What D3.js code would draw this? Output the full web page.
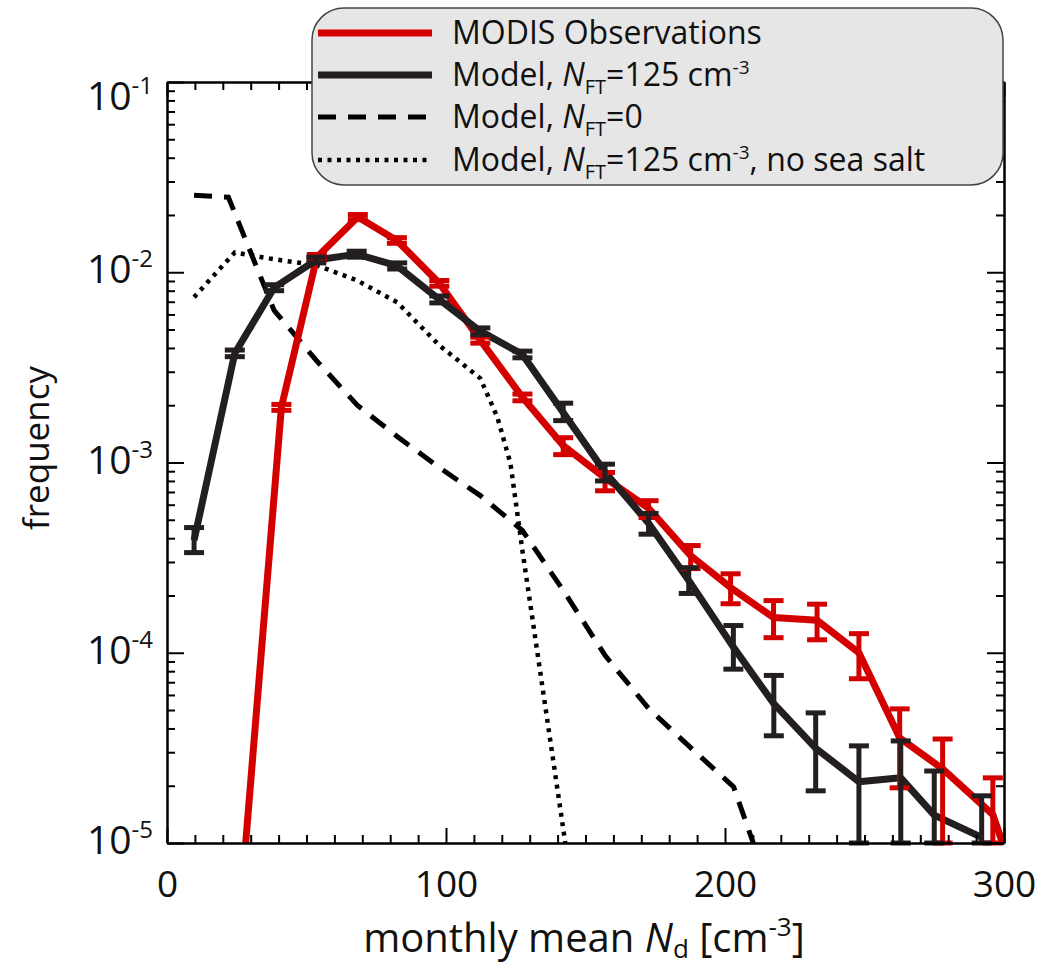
<!DOCTYPE html>
<html>
<head>
<meta charset="utf-8">
<script src="https://cdn.jsdelivr.net/npm/d3@7"></script>
<style>
body { margin: 0; background: #fff; }
text { font-family: "Open Sans", sans-serif; fill: #111; }
</style>
</head>
<body>
<div id="chart"></div>
<script>
// values (bin centre in cm-3, frequency)
var obsX  = [9.7, 24.3, 41, 53.7, 68.4, 82.4, 97.6, 112.3, 127.4, 142, 157, 172.6, 187.7, 202, 217.4, 233, 248, 262.6, 278, 296, 310]
var obsY  = [1e-7, 2e-6, 1.95e-3, 1.2e-2, 1.95e-2, 1.47e-2, 8.75e-3, 4.4e-3, 2.2e-3, 1.23e-3, 8.3e-4, 5.75e-4, 3.24e-4, 2.2e-4, 1.53e-4, 1.48e-4, 1.0e-4, 3.57e-5, 2.45e-5, 1.41e-5, 3.5e-6]
var obsHi = [1.1e-7, 2.2e-6, 2.02e-3, 1.24e-2, 2.01e-2, 1.52e-2, 9.05e-3, 4.56e-3, 2.29e-3, 1.35e-3, 8.86e-4, 6.3e-4, 3.66e-4, 2.6e-4, 1.88e-4, 1.8e-4, 1.26e-4, 5.07e-5, 3.52e-5, 2.2e-5, 4e-6]
var obsLo = [0.9e-7, 1.8e-6, 1.88e-3, 1.16e-2, 1.89e-2, 1.42e-2, 8.45e-3, 4.24e-3, 2.11e-3, 1.1e-3, 7.1e-4, 5.14e-4, 2.77e-4, 1.81e-4, 1.2e-4, 1.17e-4, 7.3e-5, 1.95e-5, 1e-5, 1e-5, 3e-6]

var modX  = [9.7, 24.3, 38.4, 53.5, 68, 82.5, 97.6, 112.3, 127.4, 142, 157, 172.6, 187, 203, 217.5, 232.5, 248, 263, 275, 292]
var modY  = [3.9e-4, 3.75e-3, 8.3e-3, 1.16e-2, 1.245e-2, 1.08e-2, 7.2e-3, 4.9e-3, 3.7e-3, 1.83e-3, 8.9e-4, 4.8e-4, 2.4e-4, 1.07e-4, 5.4e-5, 3.15e-5, 2.1e-5, 2.2e-5, 1.4e-5, 1.07e-5]
var modHi = [4.55e-4, 3.9e-3, 8.6e-3, 1.2e-2, 1.29e-2, 1.12e-2, 7.5e-3, 5.1e-3, 3.85e-3, 2.05e-3, 9.8e-4, 5.4e-4, 2.8e-4, 1.39e-4, 7.6e-5, 4.83e-5, 3.24e-5, 3.44e-5, 2.39e-5, 1.77e-5]
var modLo = [3.36e-4, 3.6e-3, 8.0e-3, 1.12e-2, 1.2e-2, 1.04e-2, 6.9e-3, 4.7e-3, 3.55e-3, 1.66e-3, 8.0e-4, 4.2e-4, 2.05e-4, 8.2e-5, 3.66e-5, 1.88e-5, 1e-5, 1e-5, 1e-5, 1e-5]

var zeroX = [9.7, 22, 38.4, 53.5, 68.2, 82.5, 97.6, 112.3, 127.4, 142.1, 157.2, 172.6, 187, 203.1, 217.1]
var zeroY = [2.54e-2, 2.48e-2, 6.3e-3, 3.44e-3, 2.0e-3, 1.37e-3, 9.4e-4, 6.7e-4, 4.39e-4, 2.12e-4, 9.6e-5, 5.1e-5, 3.24e-5, 1.97e-5, 5.1e-6]

var noSaltX = [9.7, 24.3, 38.4, 53.5, 68, 82.5, 97.6, 112.3, 118.4, 123.1, 127.4, 157.2]
var noSaltY = [7.4e-3, 1.27e-2, 1.17e-2, 1.09e-2, 9.08e-3, 6.95e-3, 4.13e-3, 2.77e-3, 1.73e-3, 9.9e-4, 3.44e-4, 3.6e-7]

var xMajor = [0, 100, 200, 300]
var decades = [-1, -2, -3, -4, -5]

var width = 1049, height = 968
var margin = {top: 82, right: 45, bottom: 125, left: 167}
var red = "#d40000", blk = "#231f20"

var x = d3.scaleLinear().domain([0, 300]).range([margin.left, width - margin.right])
var y = d3.scaleLog().domain([1e-5, 1e-1]).range([height - margin.bottom, margin.top])

var svg = d3.select("#chart").append("svg")
    .attr("width", width)
    .attr("height", height)

var zip = function(xs, ys) { return xs.map(function(d, i) { return [d, ys[i]] }) }
var line = d3.line().x(function(d) { return x(d[0]) }).y(function(d) { return y(d[1]) })

svg.append("clipPath").attr("id", "plot")
  .append("rect")
    .attr("x", x(0)).attr("y", y(1e-1))
    .attr("width", x(300) - x(0)).attr("height", y(1e-5) - y(1e-1))
svg.append("clipPath").attr("id", "plotLoose")
  .append("rect")
    .attr("x", x(0)).attr("y", y(1e-1))
    .attr("width", x(300) - x(0)).attr("height", y(1e-5) - y(1e-1) + 5)

var plot = svg.append("g").attr("clip-path", "url(#plot)")
var bars = svg.append("g").attr("clip-path", "url(#plotLoose)")

// model without free troposphere aerosol
plot.append("path")
    .attr("d", line(zip(zeroX, zeroY)))
    .attr("fill", "none").attr("stroke", "#000")
    .attr("stroke-width", 5).attr("stroke-dasharray", "18,12")

// no sea salt
plot.append("path")
    .attr("d", line(zip(noSaltX, noSaltY)))
    .attr("fill", "none").attr("stroke", "#000")
    .attr("stroke-width", 4.5).attr("stroke-dasharray", "4,5.5")

var drawSeries = function(xs, ys, lo, hi, color) {
    plot.append("path")
        .attr("d", line(zip(xs, ys)))
        .attr("fill", "none").attr("stroke", color)
        .attr("stroke-width", 7).attr("stroke-linejoin", "round")
    var g = bars.append("g").attr("stroke", color).attr("stroke-width", 5)
    xs.forEach(function(d, i) {
        var cx = x(d), y0 = y(lo[i]), y1 = y(hi[i])
        g.append("line").attr("x1", cx).attr("x2", cx).attr("y1", y0).attr("y2", y1)
        g.append("line").attr("x1", cx - 10).attr("x2", cx + 10).attr("y1", y0).attr("y2", y0)
        g.append("line").attr("x1", cx - 10).attr("x2", cx + 10).attr("y1", y1).attr("y2", y1)
    })
}
drawSeries(obsX, obsY, obsLo, obsHi, red)
drawSeries(modX, modY, modLo, modHi, blk)

// axes, ticks pointing inward on all four sides
var axes = svg.append("g").attr("class", "axes")
var yMinor = y.ticks().filter(function(d) { return Math.abs(Math.log10(d) - Math.round(Math.log10(d))) > 1e-6 })
var yMajor = decades.map(function(d) { return Math.pow(10, d) })
var xMinor = d3.range(10, 300, 10).filter(function(d) { return d % 100 != 0 })

var addAxis = function(axisFn, scale, tr, values, size, fmt, pad) {
    var a = axisFn(scale).tickValues(values).tickSize(-size).tickSizeOuter(0)
        .tickFormat(fmt || function() { return "" })
    if (pad) a.tickPadding(pad)
    var g = axes.append("g").attr("transform", tr).call(a)
    g.selectAll("line").attr("stroke", "#000").attr("stroke-width", 2)
    g.select(".domain").attr("stroke", "#000").attr("stroke-width", 2)
    return g
}
var atBottom = "translate(0," + y(1e-5) + ")"
var atTop = "translate(0," + y(1e-1) + ")"
var atLeft = "translate(" + x(0) + ",0)"
var atRight = "translate(" + x(300) + ",0)"

var xLab = addAxis(d3.axisBottom, x, atBottom, xMajor, 15, d3.format("d"), 28)
xLab.selectAll("text").style("font-size", "37px").attr("fill", "#111")
addAxis(d3.axisBottom, x, atBottom, xMinor, 8)
addAxis(d3.axisTop, x, atTop, xMajor, 15)
addAxis(d3.axisTop, x, atTop, xMinor, 8)
addAxis(d3.axisLeft, y, atLeft, yMajor, 17)
addAxis(d3.axisLeft, y, atLeft, yMinor, 8)
addAxis(d3.axisRight, y, atRight, yMajor, 17)
addAxis(d3.axisRight, y, atRight, yMinor, 8)

// y tick labels 10^n
decades.forEach(function(d, i) {
    var t = axes.append("text")
        .attr("x", 153)
        .attr("y", y(Math.pow(10, d)) + (i == 0 ? 28 : 11))
        .attr("text-anchor", "end")
        .style("font-size", "39px")
    t.append("tspan").text("10")
    t.append("tspan").attr("dy", -16).style("font-size", "24px").text(String(d))
})

// axis titles
var title = svg.append("text")
    .attr("x", 584).attr("y", 952)
    .attr("text-anchor", "middle")
    .style("font-size", "40px")
title.append("tspan").text("monthly mean ")
title.append("tspan").style("font-style", "italic").text("N")
title.append("tspan").attr("dy", 6).style("font-size", "26px").text("d")
title.append("tspan").attr("dy", -6).text(" [cm")
title.append("tspan").attr("dy", -16).style("font-size", "26px").text("-3")
title.append("tspan").attr("dy", 16).text("]")

svg.append("text")
    .attr("transform", "translate(49,448) rotate(-90)")
    .attr("text-anchor", "middle")
    .style("font-size", "35px")
    .text("frequency")

// legend
var legend = svg.append("g")
legend.append("rect")
    .attr("x", 312).attr("y", 8)
    .attr("width", 691).attr("height", 177)
    .attr("rx", 32).attr("ry", 32)
    .attr("fill", "#e6e6e6").attr("stroke", "#444").attr("stroke-width", 1.5)

var legendRows = [
    {stroke: red, width: 7, dash: null, parts: [["MODIS Observations"]]},
    {stroke: blk, width: 7, dash: null, parts: [["Model, "], ["N", "i"], ["FT", "sub"], ["=125 cm"], ["-3", "sup"]]},
    {stroke: "#000", width: 5, dash: "18,12", parts: [["Model, "], ["N", "i"], ["FT", "sub"], ["=0"]]},
    {stroke: "#000", width: 4.5, dash: "4,5.5", parts: [["Model, "], ["N", "i"], ["FT", "sub"], ["=125 cm"], ["-3", "sup"], [", no sea salt"]]}
]
var rowY = [33, 75, 117, 160]

legendRows.forEach(function(r, i) {
    legend.append("line")
        .attr("x1", 318).attr("x2", 432)
        .attr("y1", rowY[i]).attr("y2", rowY[i])
        .attr("stroke", r.stroke).attr("stroke-width", r.width)
        .attr("stroke-dasharray", r.dash)
    var t = legend.append("text")
        .attr("x", 452).attr("y", rowY[i] + 11)
        .style("font-size", "32px")
    var shift = 0
    r.parts.forEach(function(p) {
        var s = t.append("tspan").text(p[0])
        var want = 0
        if (p[1] == "i") s.style("font-style", "italic")
        if (p[1] == "sub") { s.style("font-size", "20px"); want = 8 }
        if (p[1] == "sup") { s.style("font-size", "19px"); want = -12 }
        if (want != shift) s.attr("dy", want - shift)
        shift = want
    })
})
</script>
</body>
</html>
